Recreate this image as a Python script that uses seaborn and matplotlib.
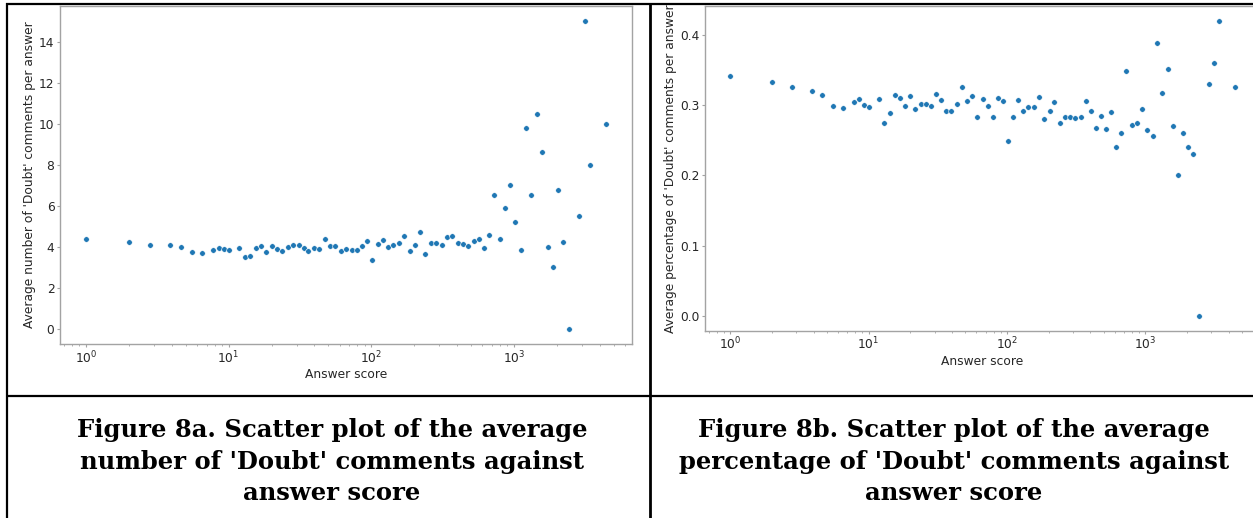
import numpy as np
import pandas as pd
import matplotlib
matplotlib.use("Agg")
import matplotlib.pyplot as plt
from matplotlib.lines import Line2D
import seaborn as sns

# ---- data ----
answer_score = [1, 2, 2.8, 3.9, 4.6, 5.5, 6.5, 7.8, 8.5, 9.25, 10, 11.9, 13, 14.2,
                15.5, 16.8, 18.3, 20, 21.8, 23.8, 25.9, 28.3, 30.9, 33.5, 36.3,
                39.6, 43.2, 47.1, 51.4, 56.1, 61.1, 66.7, 72.8, 78.9, 86.1, 93.3,
                102, 111, 120, 131, 143, 156, 171, 186, 203, 220, 240, 262, 286,
                312, 340, 371, 405, 442, 479, 522, 569, 617, 669, 730, 795, 870,
                940, 1026, 1127, 1222, 1324, 1456, 1578, 1722, 1877, 2048, 2219,
                2437, 2883, 3142, 3430, 4425]

avg_doubt_count = [4.38, 4.23, 4.10, 4.10, 4.00, 3.73, 3.70, 3.86, 3.96, 3.89,
                   3.86, 3.94, 3.50, 3.55, 3.96, 4.04, 3.76, 4.04, 3.89, 3.81,
                   3.97, 4.07, 4.10, 3.96, 3.78, 3.94, 3.89, 4.36, 4.05, 4.05,
                   3.78, 3.89, 3.83, 3.83, 4.05, 4.26, 3.34, 4.13, 4.31, 3.99,
                   4.09, 4.17, 4.53, 3.78, 4.07, 4.72, 3.65, 4.17, 4.20, 4.10,
                   4.49, 4.51, 4.17, 4.13, 4.05, 4.30, 4.36, 3.96, 4.57, 6.51,
                   4.36, 5.89, 7.02, 5.21, 3.84, 9.77, 6.51, 10.5, 8.61, 4.00,
                   3.03, 6.76, 4.25, 0.0, 5.49, 15.0, 7.99, 10.0]

avg_doubt_pct = [0.3416, 0.3325, 0.325, 0.320, 0.314, 0.298, 0.296, 0.305, 0.308,
                 0.300, 0.297, 0.309, 0.275, 0.289, 0.3145, 0.310, 0.299, 0.313,
                 0.2945, 0.3017, 0.301, 0.299, 0.316, 0.307, 0.292, 0.292, 0.302,
                 0.326, 0.306, 0.3135, 0.283, 0.309, 0.298, 0.283, 0.310, 0.306,
                 0.249, 0.283, 0.307, 0.291, 0.297, 0.297, 0.312, 0.280, 0.291,
                 0.3045, 0.2745, 0.283, 0.2836, 0.282, 0.283, 0.306, 0.2917,
                 0.268, 0.284, 0.266, 0.290, 0.240, 0.260, 0.348, 0.272, 0.275,
                 0.294, 0.2646, 0.2556, 0.388, 0.317, 0.3506, 0.2703, 0.200,
                 0.260, 0.2404, 0.2304, 0.0, 0.330, 0.360, 0.420, 0.3254]

x_label = "Answer score"
y_labels = ["Average number of 'Doubt' comments per answer",
            "Average percentage of 'Doubt' comments per answer"]
captions = [["Figure 8a. Scatter plot of the average",
             "number of 'Doubt' comments against",
             "answer score"],
            ["Figure 8b. Scatter plot of the average",
             "percentage of 'Doubt' comments against",
             "answer score"]]

df = pd.DataFrame({"score": answer_score, "count": avg_doubt_count,
                   "pct": avg_doubt_pct})

sns.set_style("white")
plt.rcParams["font.family"] = ["DejaVu Sans"]

W, H = 1253, 518
fig = plt.figure(figsize=(W / 100, H / 100), dpi=100)
fig.patch.set_facecolor("white")

def px_axes(x0, x1, ytop, ybot):
    return [x0 / W, 1 - ybot / H, (x1 - x0) / W, (ybot - ytop) / H]

ax1 = fig.add_axes(px_axes(60, 632, 6, 344))
ax2 = fig.add_axes(px_axes(705, 1260, 6, 330.5))

spine_col = "#a3a3a3"
for ax, col, ylab in [(ax1, "count", y_labels[0]), (ax2, "pct", y_labels[1])]:
    sns.scatterplot(data=df, x="score", y=col, ax=ax, color="#1f77b4",
                    s=16, linewidth=0.4, edgecolor="white")
    ax.set_xscale("log")
    ax.set_xlabel(x_label, fontsize=8.8, color="#262626", labelpad=1.5)
    ax.set_ylabel(ylab, fontsize=8.8, color="#262626", labelpad=2)
    for sp in ax.spines.values():
        sp.set_color(spine_col)
        sp.set_linewidth(1.0)
    ax.tick_params(axis="both", which="major", length=2.5, width=0.8,
                   color=spine_col, labelsize=8.8, labelcolor="#262626", pad=1.5,
                   bottom=True, left=True)
    ax.tick_params(axis="x", which="minor", length=1.5, width=0.6,
                   color=spine_col, bottom=True)
    ax.margins(x=0.05, y=0.05)

ax2.set_yticks([0.0, 0.1, 0.2, 0.3, 0.4])

# ---- table-like frame ----
def hline(y, x0, x1, lw):
    fig.add_artist(Line2D([x0 / W, x1 / W], [1 - y / H, 1 - y / H],
                          transform=fig.transFigure, color="black", lw=lw,
                          solid_capstyle="butt"))

def vline(x, y0, y1, lw):
    fig.add_artist(Line2D([x / W, x / W], [1 - y0 / H, 1 - y1 / H],
                          transform=fig.transFigure, color="black", lw=lw,
                          solid_capstyle="butt"))

hline(3.5, 6, W, 1.6)
hline(395.7, 6, W, 1.6)
vline(7, 2.5, H, 1.6)
vline(650.5, 2.5, H, 2.0)

# ---- captions ----
baselines = [437.5, 468.8, 499.5]
for cx, lines in zip([332, 954], captions):
    for yb, line in zip(baselines, lines):
        fig.text(cx / W, 1 - yb / H, line, ha="center", va="baseline",
                 fontsize=17.5, fontweight="bold", family="DejaVu Serif",
                 color="black")

fig.savefig("out.png", dpi=100, facecolor="white")
